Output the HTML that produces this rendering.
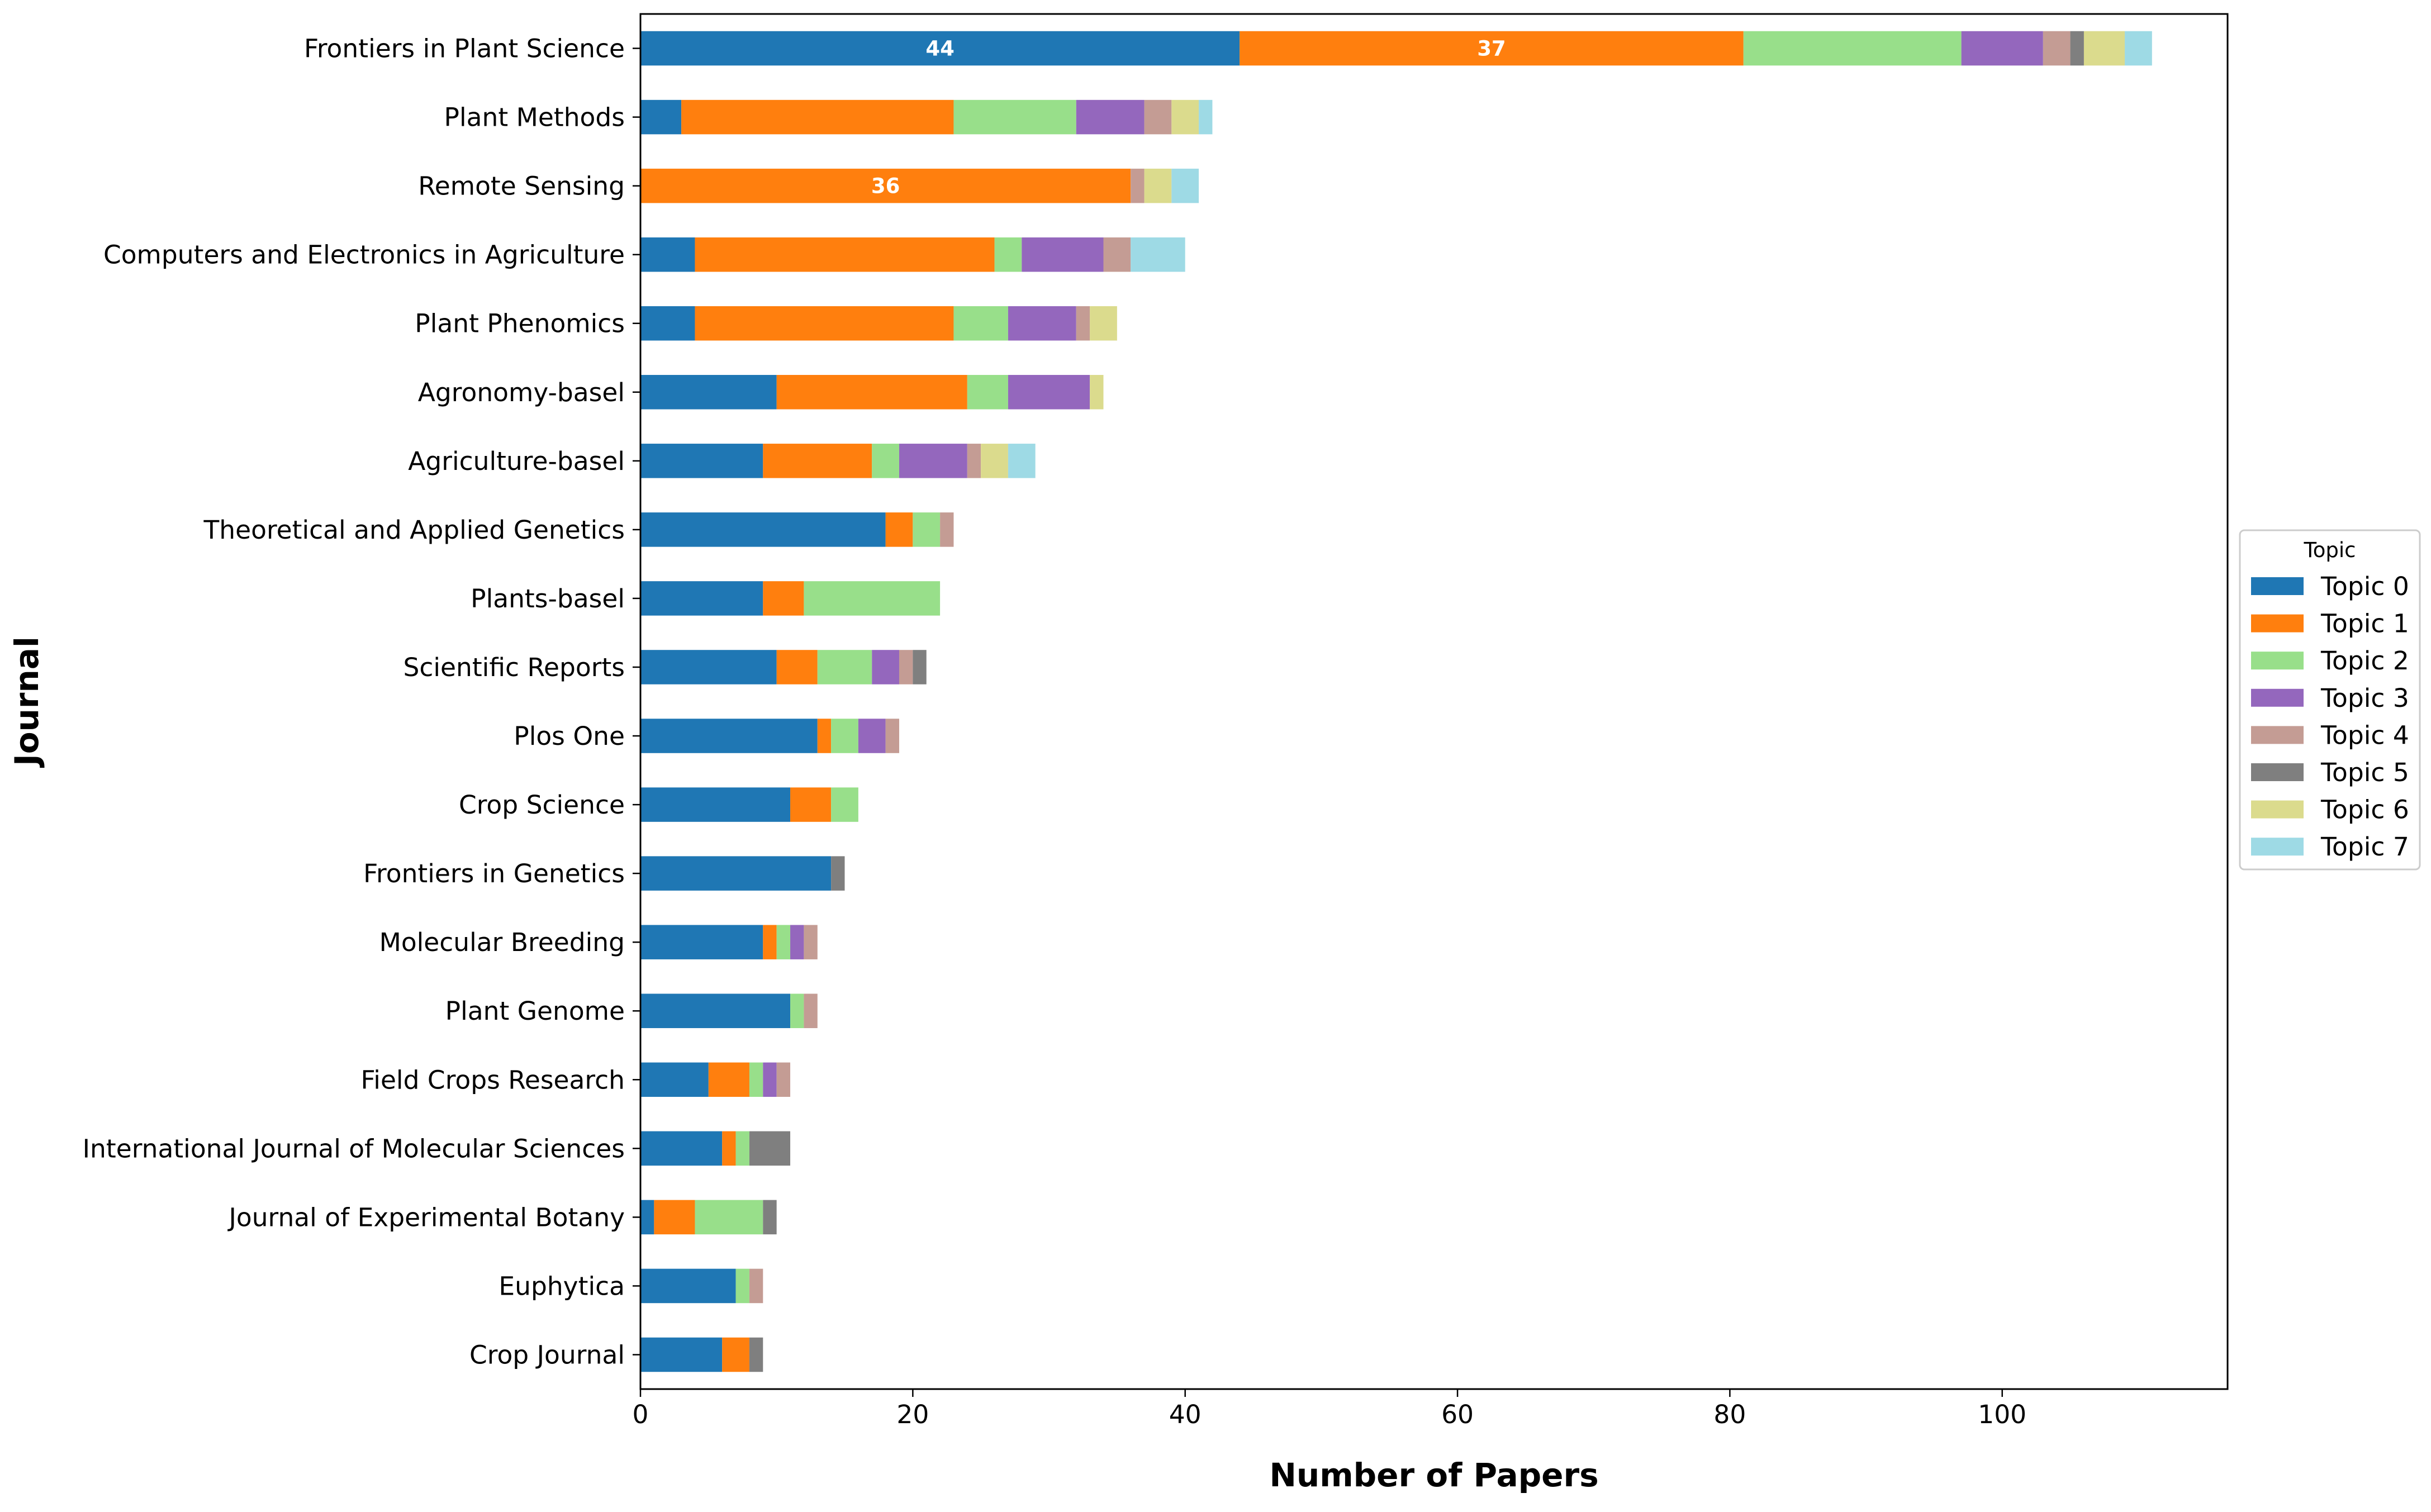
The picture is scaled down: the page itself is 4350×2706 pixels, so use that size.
<!DOCTYPE html>
<html><head><meta charset="utf-8">
<style>
html,body{margin:0;padding:0;background:#fff;}
svg{display:block;font-family:"DejaVu Sans","Liberation Sans",sans-serif;}
</style></head>
<body>
<svg id="chart" width="4350" height="2706" viewBox="0 0 4350 2706" xmlns="http://www.w3.org/2000/svg">
<rect width="4350" height="2706" fill="#fff"/>
<g id="bars"></g>
<g id="yticks"></g>
<g id="xticks"></g>
<rect x="1146" y="25" width="2840" height="2461" fill="none" stroke="#000" stroke-width="3"/>
<text x="2566" y="2660" font-size="58" font-weight="bold" text-anchor="middle">Number of Papers</text>
<text x="68" y="1255" font-size="58" font-weight="bold" text-anchor="middle" transform="rotate(-90 68 1255)">Journal</text>
<g id="legend"></g>
</svg>
<script>
const journals=["Frontiers in Plant Science","Plant Methods","Remote Sensing","Computers and Electronics in Agriculture","Plant Phenomics","Agronomy-basel","Agriculture-basel","Theoretical and Applied Genetics","Plants-basel","Scientific Reports","Plos One","Crop Science","Frontiers in Genetics","Molecular Breeding","Plant Genome","Field Crops Research","International Journal of Molecular Sciences","Journal of Experimental Botany","Euphytica","Crop Journal"];
const topic0=[44,3,0,4,4,10,9,18,9,10,13,11,14,9,11,5,6,1,7,6];
const topic1=[37,20,36,22,19,14,8,2,3,3,1,3,0,1,0,3,1,3,0,2];
const topic2=[16,9,0,2,4,3,2,2,10,4,2,2,0,1,1,1,1,5,1,0];
const topic3=[6,5,0,6,5,6,5,0,0,2,2,0,0,1,0,1,0,0,0,0];
const topic4=[2,2,1,2,1,0,1,1,0,1,1,0,0,1,1,1,0,0,1,0];
const topic5=[1,0,0,0,0,0,0,0,0,1,0,0,1,0,0,0,3,1,0,1];
const topic6=[3,2,2,0,2,1,2,0,0,0,0,0,0,0,0,0,0,0,0,0];
const topic7=[2,1,2,4,0,0,2,0,0,0,0,0,0,0,0,0,0,0,0,0];
const topicNames=["Topic 0","Topic 1","Topic 2","Topic 3","Topic 4","Topic 5","Topic 6","Topic 7"];
const xTicks=[0,20,40,60,80,100];
const series=[topic0,topic1,topic2,topic3,topic4,topic5,topic6,topic7];
const colors=["#1f77b4","#ff7f0e","#98df8a","#9467bd","#c49c94","#7f7f7f","#dbdb8d","#9edae5"];
const NS="http://www.w3.org/2000/svg";
const L=1146,R=3986,T=25,B=2486;
const totals=journals.map((_,i)=>series.reduce((s,a)=>s+a[i],0));
const xmax=Math.max(...totals)*1.05;
const x=v=>L+v*(R-L)/xmax;
const band=(B-T)/journals.length;
const yc=i=>T+band*(i+0.5);
const bh=band*0.5;
function el(tag,attrs,parent){const e=document.createElementNS(NS,tag);for(const k in attrs)e.setAttribute(k,attrs[k]);parent.appendChild(e);return e;}
const gb=document.getElementById('bars');
journals.forEach((j,i)=>{
  let acc=0;
  series.forEach((s,t)=>{
    const v=s[i];
    if(v>0){
      const r=el('rect',{x:x(acc),y:yc(i)-bh/2,width:x(acc+v)-x(acc),height:bh,fill:colors[t]},gb);
      
      
      if(v>=30){
        const tx=el('text',{x:(x(acc)+x(acc+v))/2,y:yc(i)+13,'font-size':37,'font-weight':'bold',fill:'#fff','text-anchor':'middle'},gb);
        tx.textContent=v;
        
        
      }
    }
    acc+=v;
  });
});
const gy=document.getElementById('yticks');
journals.forEach((j,i)=>{
  el('line',{x1:L-14,x2:L,y1:yc(i),y2:yc(i),stroke:'#000','stroke-width':2.5},gy);
  const t=el('text',{x:L-28,y:yc(i)+16,'font-size':45.5,'text-anchor':'end'},gy);
  t.textContent=j;
  
  
});
const gx=document.getElementById('xticks');
xTicks.forEach(v=>{
  el('line',{x1:x(v),x2:x(v),y1:B,y2:B+14,stroke:'#000','stroke-width':2.5},gx);
  const t=el('text',{x:x(v),y:B+61,'font-size':45.5,'text-anchor':'middle'},gx);
  t.textContent=v;
  
  
});
const gl=document.getElementById('legend');
el('rect',{x:4008,y:949,width:322,height:607,rx:8,fill:'#fff',stroke:'#ccc','stroke-width':3},gl);
const lt=el('text',{x:4169,y:997,'font-size':37,'text-anchor':'middle'},gl);
lt.textContent='Topic';


topicNames.forEach((n,k)=>{
  const cy=1049+k*66.6;
  const p=el('rect',{x:4028,y:cy-16,width:94,height:32,fill:colors[k]},gl);
  
  
  const t=el('text',{x:4153,y:cy+16,'font-size':45.5},gl);
  t.textContent=n;
  
  
});
</script>
</body></html>
